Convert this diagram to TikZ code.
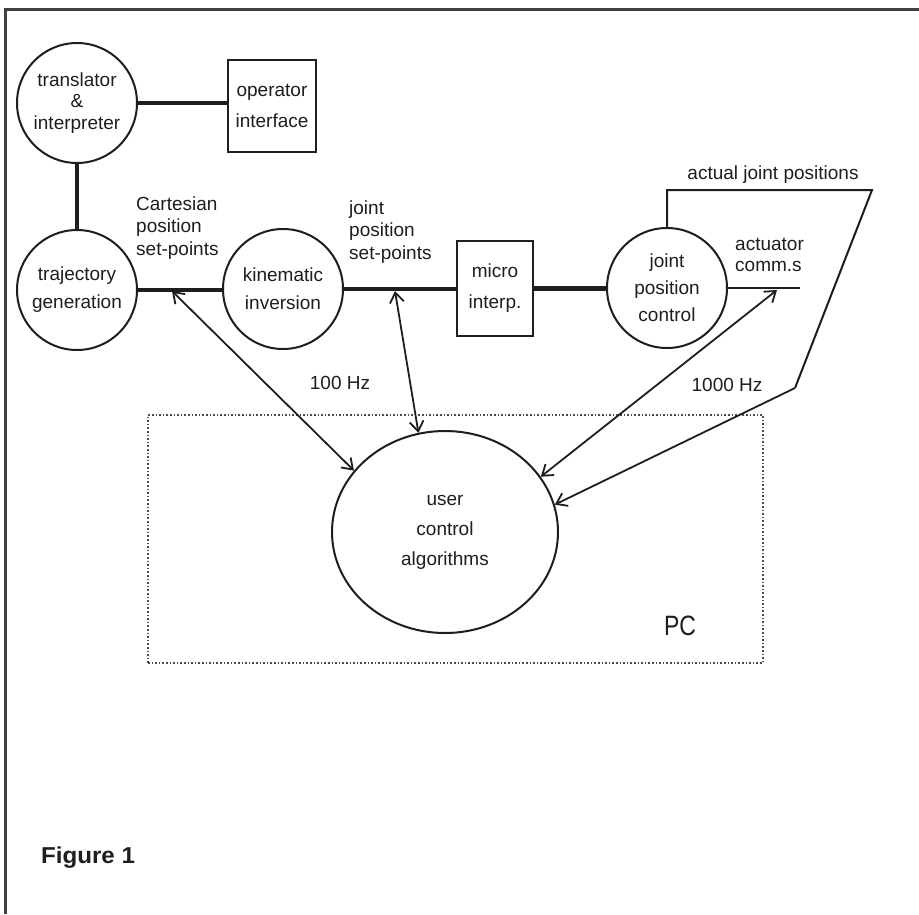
\documentclass[tikz,border=0pt]{standalone}
\usepackage{fontspec}
\setmainfont{Liberation Sans}
\usetikzlibrary{arrows.meta,shapes.geometric}
\definecolor{ink}{RGB}{30,30,30}
\begin{document}
\begin{tikzpicture}[x=1pt,y=-1pt,
  every node/.style={font=\fontsize{19}{22.5}\selectfont, inner sep=0pt, text=ink},
  proc/.style={circle, draw=ink, line width=2pt, minimum size=120pt, align=center, font=\fontsize{19}{28}\selectfont},
  boxnode/.style={rectangle, draw=ink, line width=1.8pt, align=center, font=\fontsize{19}{31}\selectfont},
  flow/.style={draw=ink, line width=4.5pt},
  link/.style={draw=ink, line width=2pt},
  barb/.tip={Straight Barb[length=10pt,width=14pt]},
  darr/.style={draw=ink, line width=1.8pt, barb-barb},
  sarr/.style={draw=ink, line width=1.8pt, -barb},
  lbl/.style={align=left},
  frame/.style={draw=ink!85, line width=3pt},
  pcbox/.style={draw=ink!80, line width=1.6pt, dotted}
]
\useasboundingbox (0,0) rectangle (919,914);
\fill[white] (0,0) rectangle (919,914);

% frame
\coordinate (f0) at (5,9);
\coordinate (f1) at (919,9);
\coordinate (f2) at (5,914);
\draw[frame] (f1) -- (f0) -- (f2);

% PC region
\node[pcbox, minimum width=615pt, minimum height=248pt] (pc) at (455.5,539) {};
\node[font=\fontsize{28}{30}\selectfont, xscale=0.82] (pclbl) at (680,626) {PC};

% nodes
\node[proc, font=\fontsize{19}{21.5}\selectfont] (tr) at (77,103) {translator\\\&\\interpreter};
\node[boxnode, minimum width=88pt, minimum height=92pt] (op) at (272,106) {operator\\interface};
\node[proc] (traj) at (77,290) {trajectory\\generation};
\node[proc] (kin) at (283,289) {kinematic\\inversion};
\node[boxnode, minimum width=76pt, minimum height=95pt] (mi) at (495,288.5) {micro\\interp.};
\node[proc, font=\fontsize{19}{27}\selectfont] (jpc) at (667,288) {joint\\position\\control};
\node[ellipse, draw=ink, line width=2pt, minimum width=226pt, minimum height=202pt, align=center, font=\fontsize{19}{30}\selectfont] (uca) at (445,532) {user\\control\\algorithms};

% thick data flows
\draw[flow] (tr.east) -- (tr.east -| op.west);
\draw[flow] (tr.south) -- (traj.north);
\draw[flow] (traj.east) -- (traj.east -| kin.west);
\draw[flow] (kin.east) -- (kin.east -| mi.west);
\draw[flow] (mi.east) -- (mi.east -| jpc.west);

% actuator commands
\coordinate (actend) at (800,288);
\draw[link] (jpc.east) -- (actend);

% actual joint positions feedback
\coordinate (fb1) at (872,190);
\coordinate (fb2) at (795,388);
\draw[link] (jpc.north) |- (fb1) -- (fb2);
\draw[sarr] (fb2) -- (uca.14.5);

% user algorithm exchanges
\coordinate (t1) at (172,291);
\coordinate (t2) at (395,291);
\coordinate (t3) at (777,290);
\draw[darr] (t1) -- (uca.146);
\draw[darr] (t2) -- (uca.105.8);
\draw[darr] (uca.30.4) -- (t3);

% labels
\node[lbl, anchor=west] (cps) at (136,228) {Cartesian\\position\\set-points};
\node[lbl, anchor=west] (jps) at (349,232) {joint\\position\\set-points};
\node[lbl, anchor=west, font=\fontsize{19}{21}\selectfont] (act) at (735,255) {actuator\\comm.s};
\node (ajp) at (773,175) {actual joint positions};
\node (hz1) at (340,383) {100 Hz};
\node (hz2) at (727,385) {1000 Hz};
\node[font=\bfseries\fontsize{23}{26}\selectfont, xscale=1.05] (fig) at (88,858) {Figure 1};
\end{tikzpicture}
\end{document}
